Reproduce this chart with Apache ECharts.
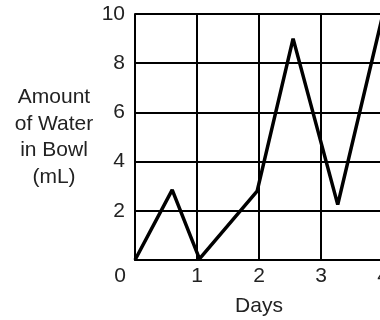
<!DOCTYPE html>
<html>
<head>
<meta charset="utf-8">
<script src="https://cdn.jsdelivr.net/npm/echarts@6/dist/echarts.min.js"></script>
<style>html,body{margin:0;padding:0;background:#fff;}#c{width:380px;height:320px;}</style>
</head>
<body>
<div id="c"></div>
<script>
var days = [0, 0.6, 1.04, 1.97, 2.55, 3.27, 4];
var water = [0, 2.85, 0.05, 2.8, 9, 2.25, 10];
var xTicks = [0, 1, 2, 3, 4];
var yTicks = [0, 2, 4, 6, 8, 10];
var xTitle = 'Days';
var yTitle = 'Amount\nof Water\nin Bowl\n(mL)';

var font = 'Liberation Sans, Arial, Helvetica, sans-serif';
var txt = '#222';
var fs = 21;
var chart = echarts.init(document.getElementById('c'), null, {renderer: 'canvas'});
chart.setOption({
  animation: false,
  backgroundColor: '#fff',
  grid: {left: 135, top: 14, width: 248, height: 246, containLabel: false, outerBoundsMode: 'none'},
  xAxis: {
    type: 'value', min: xTicks[0], max: xTicks[xTicks.length - 1], interval: 1,
    name: xTitle, nameLocation: 'middle', nameGap: 36,
    nameTextStyle: {fontFamily: font, fontSize: fs, color: txt},
    axisLine: {show: true, lineStyle: {color: '#000', width: 2}},
    axisTick: {show: false},
    splitLine: {show: true, lineStyle: {color: '#000', width: 2}},
    axisLabel: {
      fontFamily: font, fontSize: fs, color: txt, margin: 6,
      formatter: function (v) { return v === 0 ? '{z|0}' : String(v); },
      rich: {z: {fontFamily: font, fontSize: fs, color: txt, padding: [0, 30, 0, 0]}}
    }
  },
  yAxis: {
    type: 'value', min: yTicks[0], max: yTicks[yTicks.length - 1], interval: 2,
    name: yTitle, nameLocation: 'middle', nameGap: 81, nameRotate: 0,
    nameTextStyle: {fontFamily: font, fontSize: fs, color: txt, lineHeight: 26.5, align: 'center', verticalAlign: 'middle', padding: [16, 0, 0, 0]},
    axisLine: {show: true, lineStyle: {color: '#000', width: 2}},
    axisTick: {show: false},
    splitLine: {show: true, lineStyle: {color: '#000', width: 2}},
    axisLabel: {
      fontFamily: font, fontSize: fs, color: txt, margin: 10,
      formatter: function (v) { return v === 0 ? '' : String(v); }
    }
  },
  series: [{
    type: 'line',
    data: days.map(function (d, i) { return [d, water[i]]; }),
    symbol: 'none',
    lineStyle: {color: '#000', width: 3.5},
    clip: false
  }]
});
</script>
</body>
</html>
